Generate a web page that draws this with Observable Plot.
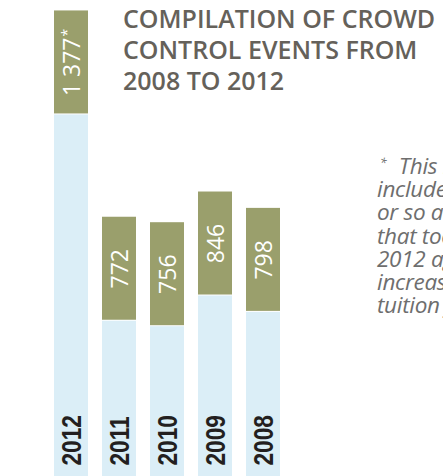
<!DOCTYPE html>
<html>
<head>
<meta charset="utf-8">
<script src="https://cdn.jsdelivr.net/npm/d3@7"></script>
<script src="https://cdn.jsdelivr.net/npm/@observablehq/plot@0.6"></script>
<style>
  html, body { margin: 0; padding: 0; background: #fff; overflow: hidden; }
  #wrap { position: relative; width: 443px; height: 476px; overflow: hidden; }
  #title {
    position: absolute; left: 123px; top: 3px;
    font-family: "Open Sans", sans-serif; font-weight: 600;
    font-size: 25px; line-height: 31px; color: #65615a;
    white-space: nowrap;
  }
  #note {
    position: absolute; left: 377px; top: 151px;
    font-family: "Open Sans", sans-serif; font-style: italic;
    font-size: 22.5px; line-height: 23.2px; color: #6e6e6e;
    white-space: nowrap; letter-spacing: -0.3px;
  }
  #note sup { font-size: 12px; vertical-align: 7px; margin-left: 3px; margin-right: 7px; }
</style>
</head>
<body>
<div id="wrap">
  <div id="chart"></div>
  <div id="title"></div>
  <div id="note"></div>
</div>
<script>
const years = ["2012", "2011", "2010", "2009", "2008"];
const events = [1377, 772, 756, 846, 798];
const valueLabels = ["1 377", "772", "756", "846", "798"];
const footnoteMarks = ["*", "", "", "", ""];
const titleLines = ["COMPILATION OF CROWD", "CONTROL EVENTS FROM", "2008 TO 2012"];
const noteLines = ["<sup>*</sup> This number", "includes the 500", "or so arrests", "that took place in", "2012 against the", "increase in", "tuition fees."];

const green = "#9a9f6c";
const blue = "#dbeef7";

const data = years.map((y, i) => ({year: y, value: events[i], label: valueLabels[i], mark: footnoteMarks[i]}));

const W = 443, H = 476;
const yDomain = [0, 1400];
const yRange = [480, 2.6];
const boxPx = 103;
const unitsPerPx = (yDomain[1] - yDomain[0]) / (yRange[0] - yRange[1]);
const box = boxPx * unitsPerPx;

const chart = Plot.plot({
  width: W,
  height: H,
  margin: 0,
  style: {overflow: "hidden", background: "#fff"},
  x: {domain: years, range: [53, 281], paddingInner: 0.3, paddingOuter: 0, axis: null},
  y: {domain: yDomain, range: yRange, axis: null},
  marks: [
    Plot.barY(data, {x: "year", y1: 0, y2: d => d.value - box, fill: blue, insetTop: 1}),
    Plot.barY(data, {x: "year", y1: d => d.value - box, y2: "value", fill: green}),
    Plot.text(data, {
      x: "year", y: d => d.value - box / 2, text: "label", rotate: -90,
      textAnchor: "middle", lineAnchor: "middle", fill: "#fff",
      fontFamily: "Open Sans, sans-serif", fontSize: 23, dx: 1, className: "vlabel"
    }),
    Plot.text(data, {
      x: "year", text: "year", frameAnchor: "bottom", dy: -11, rotate: -90,
      textAnchor: "start", lineAnchor: "middle", fill: "#231f20",
      fontFamily: "Liberation Sans, Arial, sans-serif",
      fontWeight: "bold", fontSize: 27, dx: 1, className: "ylabel"
    })
  ]
});

d3.select(chart).selectAll(".ylabel text").attr("transform", function() {
  return this.getAttribute("transform") + " scale(0.84,1)";
});
d3.select(chart).selectAll(".vlabel text").each(function(d, i) {
  const m = data[i] ? data[i].mark : "";
  if (m) {
    d3.select(this).append("tspan").attr("font-size", 14).attr("dy", "-0.55em").attr("dx", "1").text(m);
  }
});

document.getElementById("chart").appendChild(chart);
document.getElementById("title").innerHTML = titleLines.join("<br>");
document.getElementById("note").innerHTML = noteLines.join("<br>");
</script>
</body>
</html>
